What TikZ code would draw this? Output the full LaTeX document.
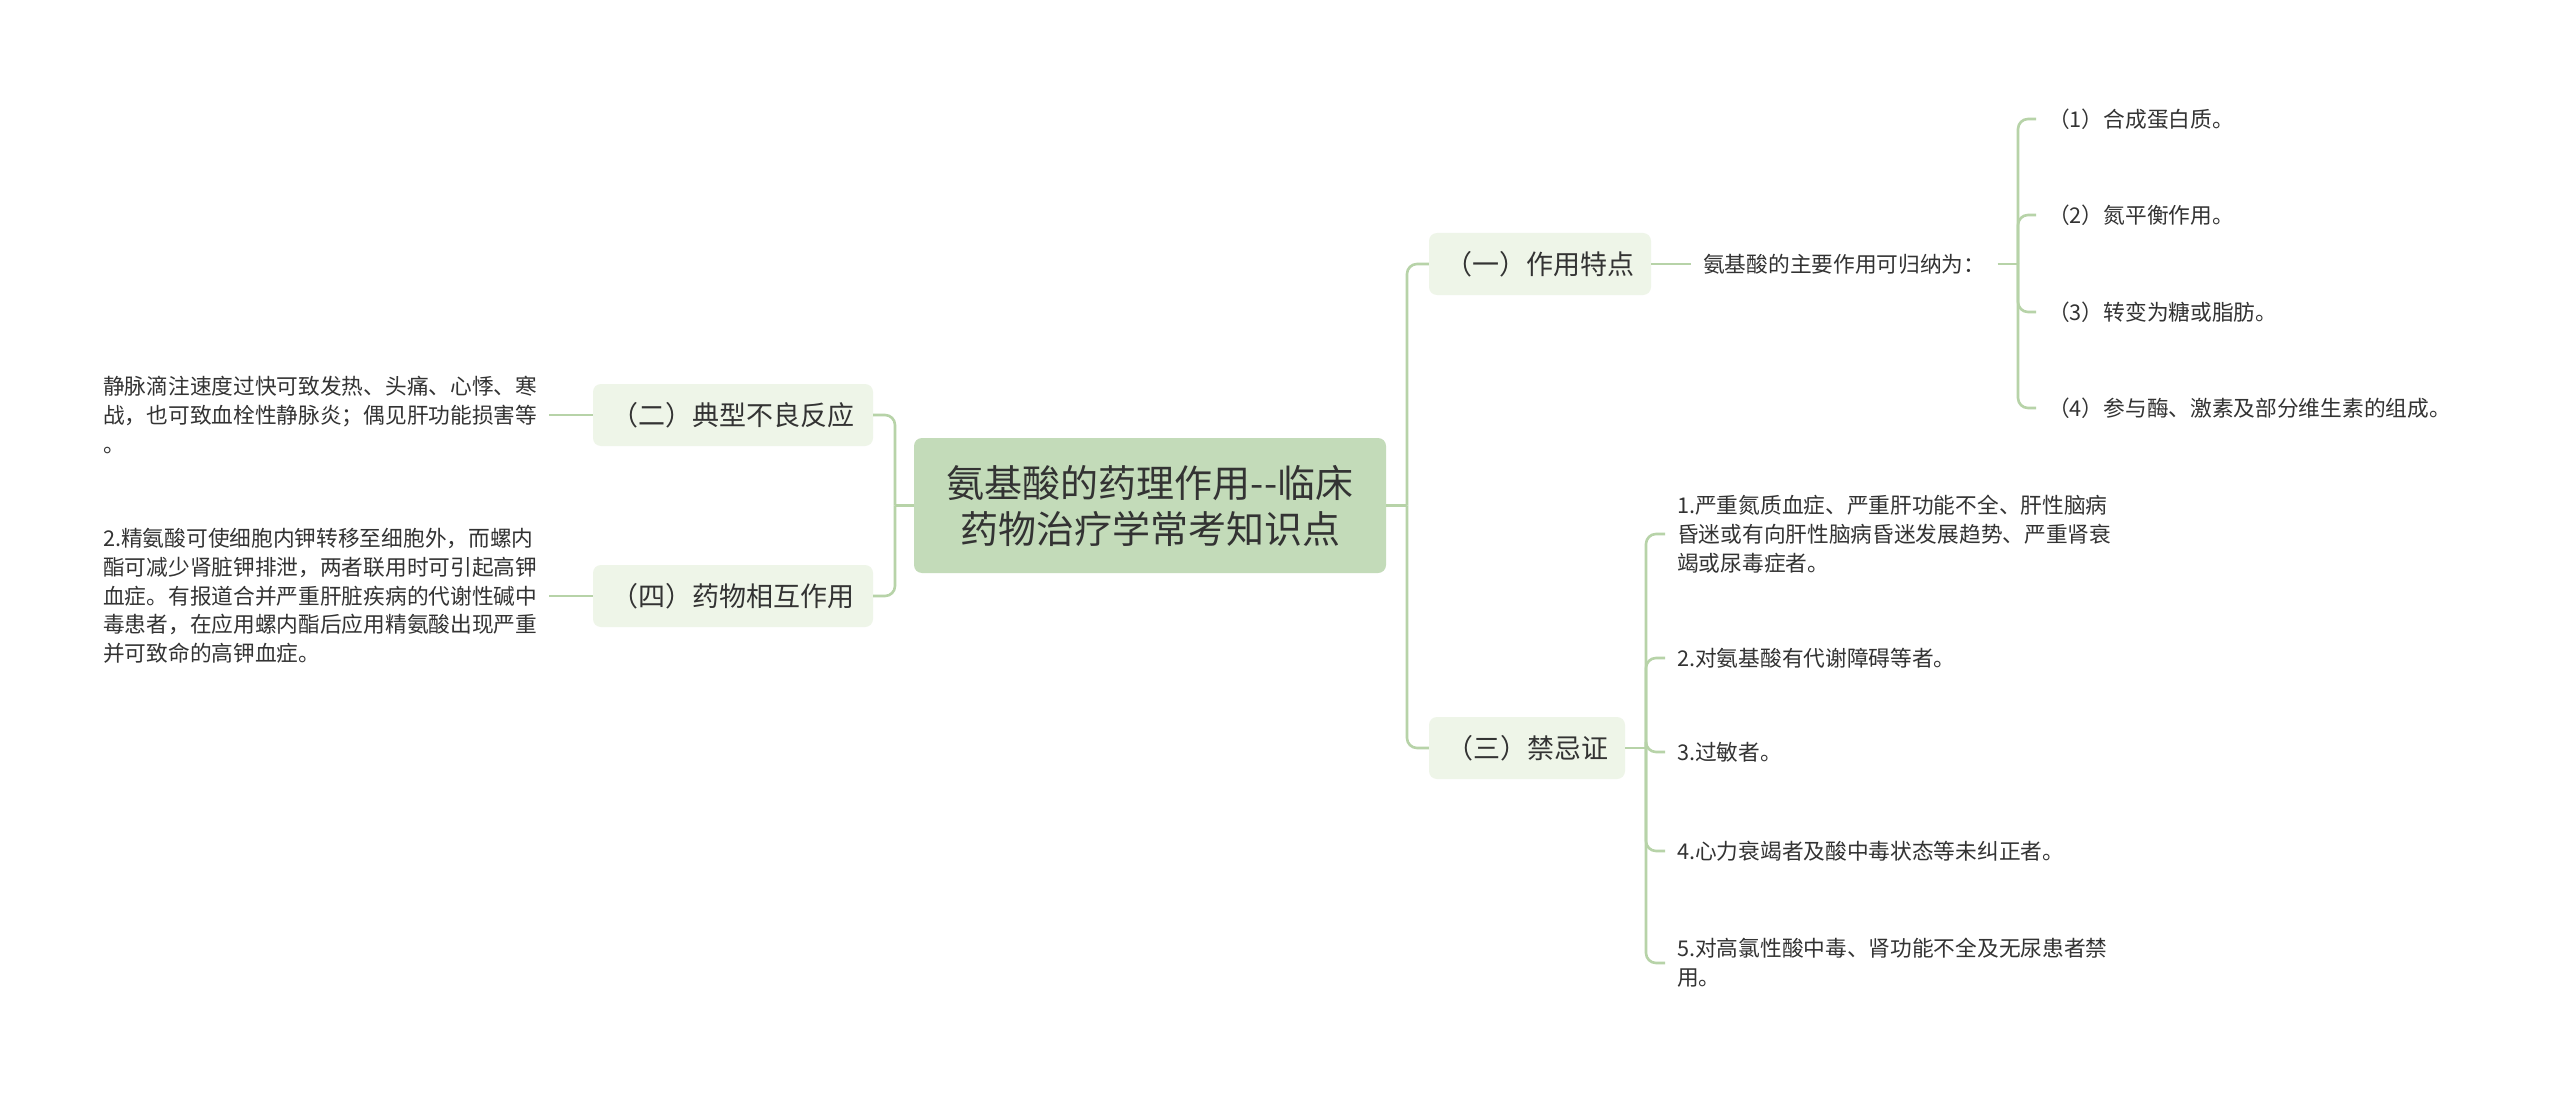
\documentclass[tikz,border=0pt]{standalone}
\usepackage{fontspec}
\setmainfont{Noto Sans CJK SC}
\definecolor{lineG}{HTML}{B7D3A8}
\definecolor{rootG}{HTML}{C3DBB9}
\definecolor{subG}{HTML}{EEF5E8}
\definecolor{txt}{HTML}{333333}
\begin{document}
\begin{tikzpicture}[x=1pt,y=-1pt,
  conn/.style={draw=lineG, line width=2.6pt, rounded corners=10pt},
  root/.style={fill=rootG, rounded corners=8pt, minimum width=472pt, minimum height=135pt, text=txt, align=center, inner sep=0pt, font=\fontsize{38}{46}\selectfont},
  lvone/.style={fill=subG, rounded corners=8pt, minimum height=62pt, text=txt, inner sep=0pt, font=\fontsize{27}{32}\selectfont},
  leaf/.style={text=txt, align=left, inner xsep=12pt, inner ysep=0pt, font=\fontsize{21.7}{28.7}\selectfont}]
\fill[white] (0,0) rectangle (2560,1094);
\useasboundingbox (0,0) rectangle (2560,1094);

% central and first level
\node[root] (c) at (1150,505.5) {氨基酸的药理作用-{}-临床\\药物治疗学常考知识点};
\node[lvone, minimum width=222pt] (a1) at (1540,264) {（一）作用特点};
\node[lvone, minimum width=196pt] (a3) at (1527,748) {（三）禁忌证};
\node[lvone, minimum width=280pt] (a2) at (733,415) {（二）典型不良反应};
\node[lvone, minimum width=280pt] (a4) at (733,596) {（四）药物相互作用};

% right leaves of (一)
\node[leaf, anchor=west] (t1) at (1691,264) {氨基酸的主要作用可归纳为：};
\node[leaf, anchor=west] (p1) at (2036,119) {（1）合成蛋白质。};
\node[leaf, anchor=west] (p2) at (2036,215) {（2）氮平衡作用。};
\node[leaf, anchor=west] (p3) at (2036,312) {（3）转变为糖或脂肪。};
\node[leaf, anchor=west] (p4) at (2036,408) {（4）参与酶、激素及部分维生素的组成。};

% right leaves of (三)
\node[leaf, anchor=west] (q1) at (1665,534) {1.严重氮质血症、严重肝功能不全、肝性脑病\\昏迷或有向肝性脑病昏迷发展趋势、严重肾衰\\竭或尿毒症者。};
\node[leaf, anchor=west] (q2) at (1665,658) {2.对氨基酸有代谢障碍等者。};
\node[leaf, anchor=west] (q3) at (1665,752) {3.过敏者。};
\node[leaf, anchor=west] (q4) at (1665,851) {4.心力衰竭者及酸中毒状态等未纠正者。};
\node[leaf, anchor=west] (q5) at (1665,963) {5.对高氯性酸中毒、肾功能不全及无尿患者禁\\用。};

% left leaves
\node[leaf, anchor=west] (l2) at (91,415) {静脉滴注速度过快可致发热、头痛、心悸、寒\\战，也可致血栓性静脉炎；偶见肝功能损害等\\。};
\node[leaf, anchor=west] (l4) at (91,596) {2.精氨酸可使细胞内钾转移至细胞外，而螺内\\酯可减少肾脏钾排泄，两者联用时可引起高钾\\血症。有报道合并严重肝脏疾病的代谢性碱中\\毒患者，在应用螺内酯后应用精氨酸出现严重\\并可致命的高钾血症。};

% junctions
\coordinate (jL) at (895,505.5);
\coordinate (jR) at (1407,505.5);
\coordinate (j1) at (2018,264);
\coordinate (j3) at (1646,748);

% connectors
\draw[conn] (c.west) -- (jL);
\draw[conn] (jL) |- (a2.east);
\draw[conn] (jL) |- (a4.east);
\draw[conn] (c.east) -- (jR);
\draw[conn] (jR) |- (a1.west);
\draw[conn] (jR) |- (a3.west);

\draw[conn] (a1.east) -- (t1.west);
\draw[conn] (t1.east) -- (j1);
\draw[conn] (j1) |- (p1.west);
\draw[conn] (j1) |- (p2.west);
\draw[conn] (j1) |- (p3.west);
\draw[conn] (j1) |- (p4.west);

\draw[conn] (a3.east) -- (j3);
\draw[conn] (j3) |- (q1.west);
\draw[conn] (j3) |- (q2.west);
\draw[conn] (j3) |- (q3.west);
\draw[conn] (j3) |- (q4.west);
\draw[conn] (j3) |- (q5.west);

\draw[conn] (l2.east) -- (a2.west);
\draw[conn] (l4.east) -- (a4.west);
\end{tikzpicture}
\end{document}
